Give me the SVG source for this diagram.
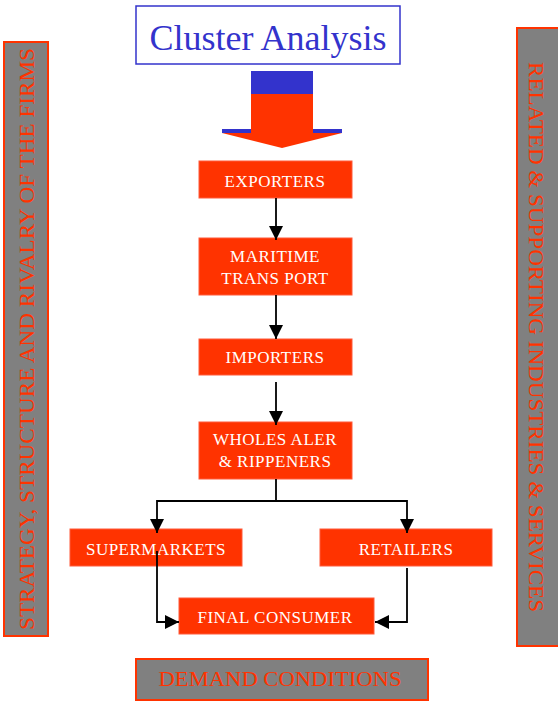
<svg xmlns="http://www.w3.org/2000/svg" width="558" height="702" viewBox="0 0 558 702">
  <defs>
    <style>
      .box { fill: #ff3300; stroke: #ff5a3a; stroke-width: 1; }
      .lbl { font-family: "Liberation Serif", "Times New Roman", serif; font-size: 17px; fill: #ffffff; text-anchor: middle; letter-spacing: 0.5px; }
      .band { fill: #808080; stroke: #ff3300; stroke-width: 2; }
      .bandtxt { font-family: "Liberation Serif", "Times New Roman", serif; font-size: 22px; fill: #ff3300; text-anchor: middle; }
      .wire { fill: none; stroke: #000000; stroke-width: 1.8; marker-end: url(#head); }
    </style>
    <marker id="head" markerUnits="userSpaceOnUse" markerWidth="14" markerHeight="14" refX="14" refY="7" orient="auto">
      <path d="M0,0 L14,7 L0,14 z" fill="#000000"/>
    </marker>
  </defs>

  <rect width="558" height="702" fill="#ffffff"/>

  <!-- title and entry arrow -->
  <g id="title">
    <rect x="136" y="6" width="264" height="58" fill="#ffffff" stroke="#3333cc" stroke-width="1.5"/>
    <text x="268" y="50" font-family="'Liberation Serif', 'Times New Roman', serif" font-size="36" fill="#3333cc" text-anchor="middle">Cluster Analysis</text>
  </g>
  <g id="entry-arrow">
    <rect x="251" y="71" width="62" height="23" fill="#3333cc"/>
    <rect x="222" y="129" width="120" height="4" fill="#3333cc"/>
    <rect x="251" y="94" width="62" height="39" fill="#ff3300"/>
    <polygon points="222,133 342,133 282,148" fill="#ff3300"/>
  </g>

  <!-- side bands -->
  <g id="strategy">
    <rect class="band" x="4" y="42" width="44" height="594"/>
    <text class="bandtxt" transform="translate(33.5,339) rotate(-90)" x="0" y="0" textLength="582" lengthAdjust="spacingAndGlyphs">STRATEGY, STRUCTURE AND RIVALRY OF THE FIRMS</text>
  </g>
  <g id="related">
    <rect class="band" x="517" y="28" width="42" height="618"/>
    <text class="bandtxt" transform="translate(529,337) rotate(90)" x="0" y="0" textLength="550" lengthAdjust="spacingAndGlyphs">RELATED &amp; SUPPORTING INDUSTRIES &amp; SERVICES</text>
  </g>
  <g id="demand">
    <rect class="band" x="136" y="659" width="292" height="41"/>
    <text class="bandtxt" x="280" y="686" font-size="21" textLength="243" lengthAdjust="spacingAndGlyphs">DEMAND CONDITIONS</text>
  </g>

  <!-- chain nodes -->
  <g id="exporters">
    <rect class="box" x="199" y="161" width="153" height="37"/>
    <text class="lbl" x="275" y="187">EXPORTERS</text>
  </g>
  <g id="maritime">
    <rect class="box" x="199" y="238" width="153" height="57"/>
    <text class="lbl" x="275" y="262">MARITIME</text>
    <text class="lbl" x="275" y="284">TRANS PORT</text>
  </g>
  <g id="importers">
    <rect class="box" x="199" y="339" width="153" height="36"/>
    <text class="lbl" x="275" y="363">IMPORTERS</text>
  </g>
  <g id="wholesaler">
    <rect class="box" x="199" y="422" width="153" height="57"/>
    <text class="lbl" x="275" y="445">WHOLES ALER</text>
    <text class="lbl" x="275" y="467">&amp; RIPPENERS</text>
  </g>
  <g id="supermarkets">
    <rect class="box" x="70" y="529" width="172" height="37"/>
    <text class="lbl" x="156" y="555">SUPERMARKETS</text>
  </g>
  <g id="retailers">
    <rect class="box" x="320" y="529" width="172" height="37"/>
    <text class="lbl" x="406" y="555">RETAILERS</text>
  </g>
  <g id="final-consumer">
    <rect class="box" x="179" y="598" width="195" height="36"/>
    <text class="lbl" x="275" y="623">FINAL CONSUMER</text>
  </g>

  <!-- connectors -->
  <g id="connectors">
    <path class="wire" d="M276,198 V240"/>
    <path class="wire" d="M276,295 V339"/>
    <path class="wire" d="M276,382 V425"/>
    <path class="wire" d="M276,479 V501 H157 V533"/>
    <path class="wire" d="M276,501 H407 V533"/>
    <path class="wire" d="M157,551 V622 H179"/>
    <path class="wire" d="M407,568 V622 H375"/>
  </g>
</svg>
